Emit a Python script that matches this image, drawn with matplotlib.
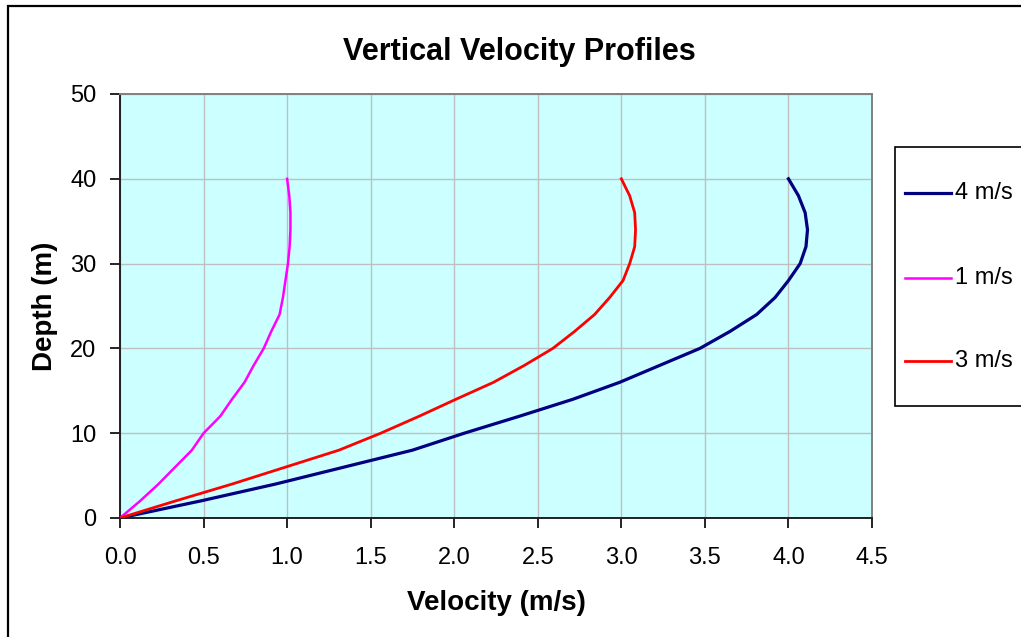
import matplotlib
matplotlib.use("Agg")
import matplotlib.pyplot as plt
from matplotlib.patches import Rectangle
from matplotlib.lines import Line2D

plt.rcParams["font.family"] = ["Liberation Sans", "DejaVu Sans"]

# Depth levels (m) and velocity at each level (m/s) for three surface speeds
depth = [0, 2, 4, 6, 8, 10, 12, 14, 16, 18, 20, 22, 24, 26, 28, 30, 32, 34, 36, 38, 40]

vel_4 = [0.00, 0.48, 0.93, 1.34, 1.75, 2.06, 2.39, 2.71, 2.99, 3.23, 3.47,
         3.65, 3.81, 3.92, 4.00, 4.07, 4.105, 4.114, 4.10, 4.06, 4.00]
vel_1 = [0.00, 0.12, 0.23, 0.33, 0.43, 0.50, 0.60, 0.67, 0.745, 0.80, 0.86,
         0.905, 0.955, 0.975, 0.99, 1.005, 1.015, 1.02, 1.02, 1.013, 1.00]
vel_3 = [0.00, 0.33, 0.67, 0.99, 1.31, 1.56, 1.79, 2.01, 2.235, 2.42, 2.59,
         2.72, 2.84, 2.93, 3.01, 3.05, 3.08, 3.085, 3.08, 3.05, 3.00]

series_labels = ["4 m/s", "1 m/s", "3 m/s"]
series_values = [vel_4, vel_1, vel_3]
series_colors = ["#000080", "#FF00FF", "#FF0000"]
series_widths = [2.3, 1.8, 2.0]

x_ticks = [0.0, 0.5, 1.0, 1.5, 2.0, 2.5, 3.0, 3.5, 4.0, 4.5]
y_ticks = [0, 10, 20, 30, 40, 50]

W, H = 1021, 637
fig = plt.figure(figsize=(W / 100, H / 100), dpi=100)
fig.patch.set_facecolor("white")


def fx(px):
    return px / W


def fy(py):
    return 1 - py / H


# chart border
fig.add_artist(Rectangle((fx(8), fy(700)), 1.2, fy(6) - fy(700),
                         transform=fig.transFigure, fill=False,
                         edgecolor="black", linewidth=1.6))

ax = fig.add_axes([fx(120), fy(518), fx(872) - fx(120), fy(94) - fy(518)])
ax.set_facecolor("#CCFFFF")

for vals, col, lw in zip(series_values, series_colors, series_widths):
    ax.plot(vals, depth, color=col, linewidth=lw, solid_joinstyle="round",
            zorder=3)

ax.set_xlim(0, 4.5)
ax.set_ylim(0, 50)
ax.set_xticks(x_ticks)
ax.set_xticklabels([f"{v:.1f}" for v in x_ticks])
ax.set_yticks(y_ticks)
ax.set_yticklabels([str(v) for v in y_ticks])
ax.tick_params(axis="both", labelsize=17, direction="out", length=7,
               width=1.2, color="black")
ax.tick_params(axis="x", pad=14)
ax.tick_params(axis="y", pad=10)
ax.grid(True, color="#BFBFBF", linewidth=1.0)
ax.set_axisbelow(True)

for side in ["left", "bottom"]:
    ax.spines[side].set_color("#202020")
    ax.spines[side].set_linewidth(1.4)
for side in ["top", "right"]:
    ax.spines[side].set_color("#808080")
    ax.spines[side].set_linewidth(1.4)

ax.set_xlabel("Velocity (m/s)", fontsize=20, fontweight="bold", va="center")
ax.xaxis.set_label_coords(0.5, (518 - 603) / 424)
ax.set_ylabel("Depth (m)", fontsize=20, fontweight="bold", va="center")
ax.yaxis.set_label_coords((45 - 120) / 752, 0.5)

fig.text(fx(519), fy(52), "Vertical Velocity Profiles", fontsize=22,
         fontweight="bold", ha="center", va="center")

# legend box
fig.add_artist(Rectangle((fx(895), fy(406)), 0.2, fy(147) - fy(406),
                         transform=fig.transFigure, facecolor="white",
                         edgecolor="black", linewidth=1.2))
legend_rows = [193, 278, 361]
for lab, col, lw, row in zip(series_labels, series_colors, series_widths,
                             legend_rows):
    fig.add_artist(Line2D([fx(905), fx(951)], [fy(row), fy(row)],
                          transform=fig.transFigure, color=col, linewidth=lw))
    fig.text(fx(955), fy(row), lab, fontsize=17, ha="left", va="center")

fig.savefig("out.png", dpi=100)
